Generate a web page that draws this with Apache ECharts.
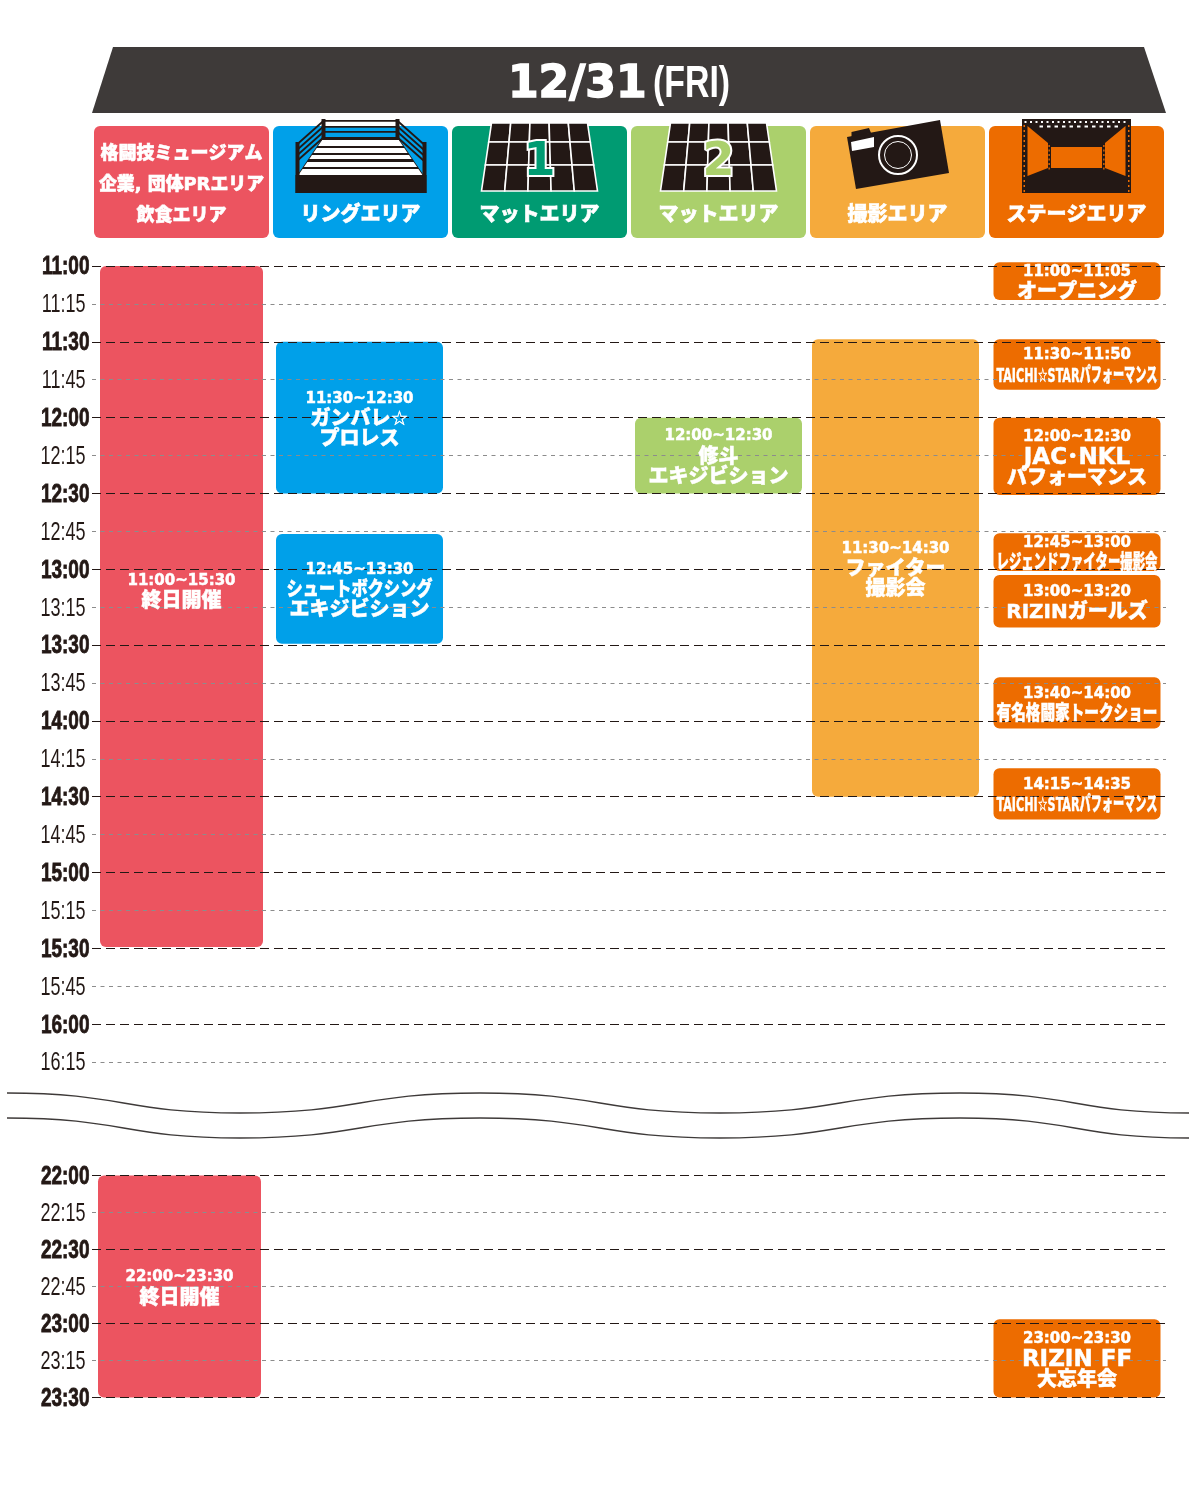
<!DOCTYPE html>
<html>
<head>
<meta charset="utf-8">
<style>html,body{margin:0;padding:0;background:#fff}#main{width:1200px;height:1505px}</style>
<script src="https://cdn.jsdelivr.net/npm/echarts@6/dist/echarts.min.js"></script>
</head>
<body>
<div id="main"></div>
<script>
// areas
var areaLabels = ['格闘技ミュージアム\n企業, 団体PRエリア\n飲食エリア', 'リングエリア', 'マットエリア', 'マットエリア', '撮影エリア', 'ステージエリア'];
var areaColors = ['#ec5460', '#00a0e9', '#009b72', '#abd06c', '#f5aa3c', '#ed6c00'];

// 11:00 - 16:15 block, minutes from midnight
var topColumn = [0, 1, 1, 3, 4, 5, 5, 5, 5, 5, 5, 5];
var topFrom = [660, 690, 766, 720, 689, 658.5, 689, 720, 765.7, 782.3, 822.7, 858.7];
var topTo = [929.5, 750, 809.5, 750, 870, 673.5, 709, 750.6, 780.7, 803, 843, 879];
var topTime = ['11:00~15:30', '11:30~12:30', '12:45~13:30', '12:00~12:30', '11:30~14:30', '11:00~11:05', '11:30~11:50', '12:00~12:30', '12:45~13:00', '13:00~13:20', '13:40~14:00', '14:15~14:35'];
var topTitle = ['終日開催', 'ガンバレ☆\nプロレス', 'シュートボクシング\nエキジビション', '修斗\nエキジビション', 'ファイター\n撮影会', 'オープニング', 'TAICHI☆STARパフォーマンス', 'JAC･NKL\nパフォーマンス', 'レジェンドファイター撮影会', 'RIZINガールズ', '有名格闘家トークショー', 'TAICHI☆STARパフォーマンス'];
var topTicks = ['11:00', '11:15', '11:30', '11:45', '12:00', '12:15', '12:30', '12:45', '13:00', '13:15', '13:30', '13:45', '14:00', '14:15', '14:30', '14:45', '15:00', '15:15', '15:30', '15:45', '16:00', '16:15'];

// 22:00 - 23:30 block
var bottomColumn = [0, 5];
var bottomFrom = [1320, 1378.3];
var bottomTo = [1410, 1410];
var bottomTime = ['22:00~23:30', '23:00~23:30'];
var bottomTitle = ['終日開催', 'RIZIN FF\n大忘年会'];
var bottomTicks = ['22:00', '22:15', '22:30', '22:45', '23:00', '23:15', '23:30'];

var dayLabel = '12/31';
var weekLabel = '(FRI)';

var DARK = '#3e3a39', BLACK = '#231815';
var GRID_LEFT = 92, GRID_WIDTH = 1074;
var columnFit = [150, 146, 150, 150, 150, 161];
var columnShift = [0, -1, 0, 0, -2, 0.5];
var TITLE_FONT = '"DejaVu Sans","Noto Sans CJK JP"';

var measure = document.createElement('canvas').getContext('2d');
function fitScale(text, font, maxWidth) {
    measure.font = font;
    var w = measure.measureText(text).width;
    return w > maxWidth ? maxWidth / w : 1;
}
function whiteText(text, x, y, font, maxWidth, strokeWidth) {
    return {
        type: 'text', x: x, y: y, scaleX: fitScale(text, font, maxWidth),
        style: {text: text, font: font, fill: '#fff', stroke: '#fff', lineWidth: strokeWidth,
            align: 'center', verticalAlign: 'middle'}
    };
}
function poly(points, fill) {
    return {type: 'polygon', shape: {points: points}, style: {fill: fill}};
}
function box(x1, y1, x2, y2, fill) {
    return {type: 'rect', shape: {x: x1, y: y1, width: x2 - x1, height: y2 - y1}, style: {fill: fill}};
}

//bars of the schedule
function barRenderer(blockShift) {
    return function (params, api) {
        var col = api.value(0);
        var c = api.coord([col, api.value(1)]);
        var e = api.coord([col, api.value(2)]);
        var w = col === 0 ? 163 : 167;
        var shift = col === 0 ? blockShift : columnShift[col];
        return {
            type: 'rect',
            shape: {x: c[0] + shift - w / 2, y: c[1], width: w, height: e[1] - c[1], r: 6},
            style: {fill: areaColors[col]}
        };
    };
}
// text of the bars, comes in a series of its own to stay above the grid lines
function textRenderer(times, titles, blockShift) {
    return function (params, api) {
        var col = api.value(0);
        var c = api.coord([col, api.value(1)]);
        var e = api.coord([col, api.value(2)]);
        var cy = (c[1] + e[1]) / 2 + 1;
        var x = c[0] + (col === 0 ? blockShift : columnShift[col]);
        // the long red bar keeps its text above the middle
        if (e[1] - c[1] > 600) cy = c[1] + 325;
        var lines = titles[params.dataIndex].split('\n');
        var start = cy - lines.length * 10;
        var kids = [whiteText(times[params.dataIndex], x, start, 'bold 15px "DejaVu Sans"', 130, 0.5)];
        lines.forEach(function (t, i) {
            var size = /^[A-Z ･]+$/.test(t) ? 23 : 20;
            kids.push(whiteText(t, x, start + 1 + 20 * (i + 1), '900 ' + size + 'px ' + TITLE_FONT, columnFit[col], 0.5));
        });
        return {type: 'group', children: kids};
    };
}
// time labels, narrowed like the poster's condensed face
function tickRenderer(labels) {
    return function (params, api) {
        var label = labels[params.dataIndex];
        var p = api.coord([0, api.value(0)]);
        var major = api.value(0) % 30 === 0;
        return {
            type: 'text', x: major ? 89.5 : 85.5, y: p[1] + 1.5, scaleX: major ? 0.76 : 0.72,
            style: {
                text: label, font: (major ? 'bold ' : '') + '25px "Liberation Sans"', fill: BLACK,
                stroke: major ? BLACK : 'none', lineWidth: major ? 0.8 : 0,
                align: 'right', verticalAlign: 'middle'
            }
        };
    };
}
function tickData(labels) {
    return labels.map(function (t) {
        var p = t.split(':');
        return [p[0] * 60 + Number(p[1])];
    });
}

// icons on the area cards, dx from the card centre and dy from the card top
function ringIcon(cx, top) {
    var kids = [], hw = function (dy) { return 38 + (dy - 12) / 37 * 25; };
    function P(dx, dy) { return [cx + dx, top + dy]; }
    [-6, 0, 5, 11].forEach(function (dy) {
        kids.push(box(cx - 36, top + dy, cx + 37, top + dy + 1.8, BLACK));
    });
    kids.push(poly([P(-38, 12), P(38, 12), P(63, 49), P(-63, 49)], BLACK));
    [[14, 20], [22, 27], [29, 33], [36, 41], [43, 49]].forEach(function (s) {
        kids.push(poly([P(-hw(s[0]) + 1, s[0]), P(hw(s[0]) - 1, s[0]), P(hw(s[1]) - 1, s[1]), P(-hw(s[1]) + 1, s[1])], '#fff'));
    });
    [0, 5.5, 11, 16.5].forEach(function (o) {
        [-1, 1].forEach(function (d) {
            kids.push({type: 'line', shape: {x1: cx + d * 36, y1: top - 6 + o, x2: cx + d * 63, y2: top + 18 + o},
                style: {stroke: BLACK, lineWidth: 1.8}});
        });
    });
    kids.push(box(cx - 65, top + 49, cx + 66, top + 67, BLACK));
    kids.push(box(cx - 39, top - 7, cx - 35, top + 14, BLACK));
    kids.push(box(cx + 35, top - 7, cx + 39, top + 14, BLACK));
    kids.push(box(cx - 65, top + 16, cx - 61, top + 67, BLACK));
    kids.push(box(cx + 62, top + 16, cx + 66, top + 67, BLACK));
    return kids;
}
function matIcon(cx, top, num, color) {
    var kids = [], rows = [-3, 16, 39, 65];
    function X(c, dy) {
        var hw = 48 + (dy + 3) / 68 * 10;
        return cx - hw + c * 2 * hw / 5;
    }
    for (var r = 0; r < 3; r++) {
        for (var c = 0; c < 5; c++) {
            kids.push({
                type: 'polygon',
                shape: {points: [[X(c, rows[r]), top + rows[r]], [X(c + 1, rows[r]), top + rows[r]],
                    [X(c + 1, rows[r + 1]), top + rows[r + 1]], [X(c, rows[r + 1]), top + rows[r + 1]]]},
                style: {fill: BLACK, stroke: '#fff', lineWidth: 1.6}
            });
        }
    }
    kids.push({
        type: 'text', x: cx, y: top + 37,
        style: {text: num, font: 'bold 46px "DejaVu Sans"', fill: color, stroke: '#fff', lineWidth: 4,
            strokeFirst: true, align: 'center', verticalAlign: 'middle'}
    });
    return kids;
}
function cameraIcon(cx, top) {
    function P(dx, dy) { return [cx + dx, top + dy]; }
    function ring(r, lw) {
        return {type: 'circle', shape: {cx: cx + 0.5, cy: top + 29, r: r}, style: {fill: 'none', stroke: '#fff', lineWidth: lw}};
    }
    return [
        poly([P(-46, 6), P(-28.5, 2), P(-26.5, 7), P(-46, 12)], BLACK),
        poly([P(-50.5, 11), P(42.5, -6), P(51.5, 47), P(-41.5, 63)], BLACK),
        poly([P(-46.5, 16), P(-23.5, 11), P(-23.5, 21), P(-45.5, 25)], '#fff'),
        ring(19, 2), ring(13.5, 1)
    ];
}
function stageIcon(cx, top, color) {
    function P(dx, dy) { return [cx + dx, top + dy]; }
    var kids = [box(cx - 54.5, top - 7, cx + 54.5, top + 67, BLACK)];
    kids.push(poly([P(-49, 0), P(-28.5, 17), P(-28.5, 42), P(-49, 50)], color));
    kids.push(poly([P(49, 0), P(28.5, 17), P(28.5, 42), P(49, 50)], color));
    kids.push(box(cx - 25.5, top + 21, cx + 25.5, top + 42, color));
    var dx, dy;
    for (dx = -37; dx <= 40; dx += 7.5) {
        kids.push(box(cx + dx, top - 0.5, cx + dx + 3.5, top + 1.5, '#fff'));
    }
    for (dx = -52; dx <= 50; dx += 5.5) {
        kids.push(box(cx + dx, top - 5, cx + dx + 2, top - 3, '#fff'));
    }
    for (dy = -1; dy <= 64; dy += 5) {
        kids.push(box(cx - 53, top + dy, cx - 51.5, top + dy + 2, color));
        kids.push(box(cx + 51.5, top + dy, cx + 53, top + dy + 2, color));
    }
    for (dy = 19; dy <= 42; dy += 4.5) {
        kids.push(box(cx - 28, top + dy, cx - 26.7, top + dy + 2, color));
        kids.push(box(cx + 26.7, top + dy, cx + 28, top + dy + 2, color));
    }
    return kids;
}
function renderCard(params, api) {
    var i = params.dataIndex;
    var top = api.coord([i, 0])[1];
    var cx = api.coord([i, 0])[0];
    var color = areaColors[i];
    var kids = [{
        type: 'rect',
        shape: {x: cx - 87.5, y: top, width: 175, height: 112, r: 6},
        style: {fill: color}
    }];
    if (i === 1) kids = kids.concat(ringIcon(cx, top));
    if (i === 2) kids = kids.concat(matIcon(cx, top, '1', color));
    if (i === 3) kids = kids.concat(matIcon(cx, top, '2', color));
    if (i === 4) kids = kids.concat(cameraIcon(cx, top));
    if (i === 5) kids = kids.concat(stageIcon(cx, top, color));
    var lines = areaLabels[i].split('\n');
    lines.forEach(function (t, n) {
        var y = top + 90 - (lines.length - 1 - n) * 31;
        var size = lines.length > 1 ? 18 : 20;
        kids.push(whiteText(t, cx, y, '900 ' + size + 'px ' + TITLE_FONT, 165, 0.6));
    });
    return {type: 'group', children: kids};
}

function timeAxis(grid, min, max) {
    return {
        type: 'value', gridIndex: grid, inverse: true, min: min, max: max, interval: 30, z: 3,
        axisLine: {show: false}, axisTick: {show: false}, axisLabel: {show: false},
        minorTick: {show: false, splitNumber: 2},
        splitLine: {show: true, showMaxLine: grid === 2, lineStyle: {color: BLACK, width: 1.2, type: [9, 5]}},
        minorSplitLine: {show: true, lineStyle: {color: '#8c8c8c', width: 1, type: [4, 4.5]}}
    };
}
function hiddenX(grid) {
    return {type: 'category', gridIndex: grid, data: areaLabels, show: false};
}
function eventData(cols, from, to) {
    return cols.map(function (c, i) { return [c, from[i], to[i]]; });
}

// wavy break between the two blocks
function waveLines(y0) {
    var knots = [7, 240, 480, 720, 960, 1189], out = [], low = 20;
    for (var k = 0; k < knots.length - 1; k++) {
        var x1 = knots[k], x2 = knots[k + 1], mid = (x1 + x2) / 2;
        var a = k % 2 ? y0 + low : y0, b = k % 2 ? y0 : y0 + low;
        out.push({
            type: 'bezierCurve',
            shape: {x1: x1, y1: a, x2: x2, y2: b, cpx1: mid, cpy1: a, cpx2: mid, cpy2: b},
            style: {stroke: DARK, lineWidth: 1.5, fill: 'none'}
        });
    }
    return out;
}

var chart = echarts.init(document.getElementById('main'));
chart.setOption({
    animation: false,
    grid: [
        {left: GRID_LEFT, width: GRID_WIDTH, top: 126, height: 112},
        // runs on to 16:30 so that 16:15 still gets its minor line
        {left: GRID_LEFT, width: GRID_WIDTH, top: 266, height: 834},
        {left: GRID_LEFT, width: GRID_WIDTH, top: 1175.5, height: 222}
    ],
    xAxis: [hiddenX(0), hiddenX(1), hiddenX(2)],
    yAxis: [
        {type: 'value', gridIndex: 0, inverse: true, min: 0, max: 1, show: false},
        timeAxis(1, 660, 990),
        timeAxis(2, 1320, 1410)
    ],
    series: [
        {type: 'custom', xAxisIndex: 0, yAxisIndex: 0, renderItem: renderCard, silent: true,
            data: areaLabels.map(function (a, i) { return [i, 0]; })},
        {type: 'custom', xAxisIndex: 1, yAxisIndex: 1, z: 2, renderItem: barRenderer(0), silent: true,
            data: eventData(topColumn, topFrom, topTo)},
        {type: 'custom', xAxisIndex: 1, yAxisIndex: 1, z: 4, renderItem: textRenderer(topTime, topTitle, 0), silent: true,
            data: eventData(topColumn, topFrom, topTo)},
        {type: 'custom', xAxisIndex: 1, yAxisIndex: 1, z: 4, renderItem: tickRenderer(topTicks), silent: true,
            encode: {y: 0}, data: tickData(topTicks)},
        {type: 'custom', xAxisIndex: 2, yAxisIndex: 2, z: 2, renderItem: barRenderer(-2), silent: true,
            data: eventData(bottomColumn, bottomFrom, bottomTo)},
        {type: 'custom', xAxisIndex: 2, yAxisIndex: 2, z: 4, renderItem: textRenderer(bottomTime, bottomTitle, -2), silent: true,
            data: eventData(bottomColumn, bottomFrom, bottomTo)},
        {type: 'custom', xAxisIndex: 2, yAxisIndex: 2, z: 4, renderItem: tickRenderer(bottomTicks), silent: true,
            encode: {y: 0}, data: tickData(bottomTicks)}
    ],
    graphic: [
        {type: 'polygon', shape: {points: [[113, 47], [1144, 47], [1166, 113], [92, 113]]}, style: {fill: DARK}},
        {type: 'text', x: 508, y: 86, style: {text: dayLabel, font: 'bold 44px "DejaVu Sans"', fill: '#fff',
            stroke: '#fff', lineWidth: 1.5, align: 'left', verticalAlign: 'middle'}},
        {type: 'text', x: 653, y: 85, scaleX: 0.77, style: {text: weekLabel, font: 'bold 44px "Liberation Sans"', fill: '#fff',
            align: 'left', verticalAlign: 'middle'}}
    ].concat(waveLines(1093), waveLines(1118))
});
</script>
</body>
</html>
